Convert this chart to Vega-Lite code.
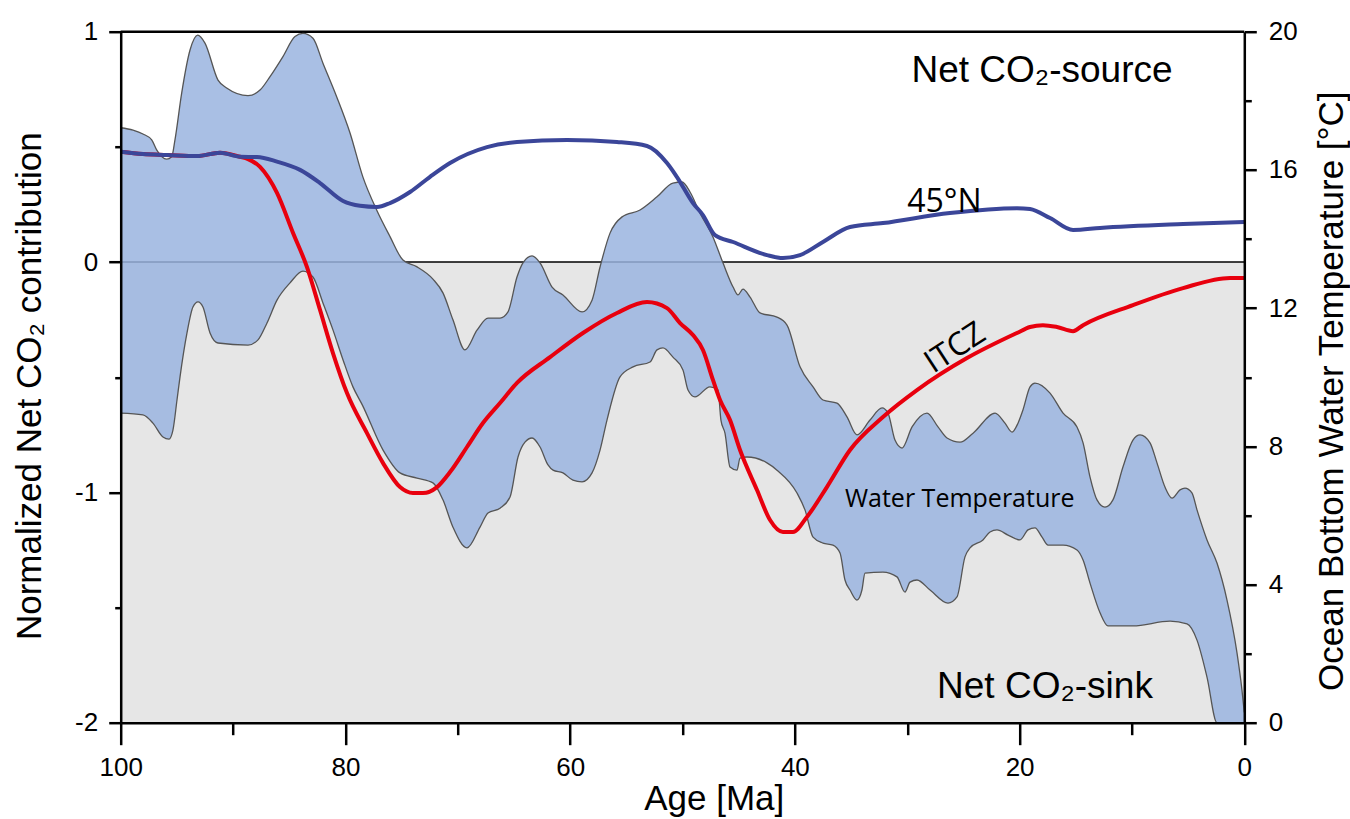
{
  "$schema": "https://vega.github.io/schema/vega-lite/v6.json",
  "autosize": "none",
  "width": 1123.6,
  "height": 691,
  "padding": {"left": 120.7, "top": 31.7, "right": 105.7, "bottom": 96.3},
  "background": "white",
  "config": {"view": {"stroke": null}},
  "datasets": {
    "upper": [
      {"age": 100, "temp": 17.22}, {"age": 98.9, "temp": 17.15}, {"age": 98.02, "temp": 17.04}, {"age": 97.24, "temp": 16.87},
      {"age": 96.8, "temp": 16.58}, {"age": 95.91, "temp": 16.31}, {"age": 95.46, "temp": 16.38}, {"age": 95.17, "temp": 16.87},
      {"age": 94.57, "temp": 18.23}, {"age": 93.83, "temp": 19.47}, {"age": 93.15, "temp": 19.9}, {"age": 92.5, "temp": 19.67},
      {"age": 91.34, "temp": 18.6}, {"age": 90.57, "temp": 18.37}, {"age": 88.67, "temp": 18.15}, {"age": 87.6, "temp": 18.31},
      {"age": 86.71, "temp": 18.7}, {"age": 85.56, "temp": 19.28}, {"age": 84.49, "temp": 19.86}, {"age": 83.78, "temp": 19.95},
      {"age": 82.89, "temp": 19.81}, {"age": 82.0, "temp": 19.09}, {"age": 80.78, "temp": 18.12}, {"age": 79.59, "temp": 17.07},
      {"age": 78.44, "temp": 15.79}, {"age": 77.22, "temp": 14.84}, {"age": 76.03, "temp": 14.07}, {"age": 74.88, "temp": 13.39},
      {"age": 73.66, "temp": 13.2}, {"age": 72.21, "temp": 12.84}, {"age": 71.32, "temp": 12.44}, {"age": 70.43, "temp": 11.66},
      {"age": 69.36, "temp": 10.79}, {"age": 68.29, "temp": 11.36}, {"age": 67.31, "temp": 11.71}, {"age": 66.24, "temp": 11.71},
      {"age": 65.53, "temp": 11.89}, {"age": 64.73, "temp": 12.9}, {"age": 64.2, "temp": 13.31}, {"age": 63.39, "temp": 13.51},
      {"age": 62.68, "temp": 13.31}, {"age": 61.61, "temp": 12.61}, {"age": 60.64, "temp": 12.38}, {"age": 58.94, "temp": 11.89},
      {"age": 58.05, "temp": 12.23}, {"age": 57.34, "temp": 13.19}, {"age": 56.45, "temp": 14.17}, {"age": 55.38, "temp": 14.64},
      {"age": 53.78, "temp": 14.84}, {"age": 52.27, "temp": 15.22}, {"age": 50.85, "temp": 15.62}, {"age": 50.04, "temp": 15.65},
      {"age": 49.33, "temp": 15.36}, {"age": 48.44, "temp": 14.75}, {"age": 47.29, "temp": 14.06}, {"age": 46.4, "temp": 13.31},
      {"age": 45.5, "temp": 12.61}, {"age": 45.06, "temp": 12.38}, {"age": 44.62, "temp": 12.55}, {"age": 43.99, "temp": 12.32},
      {"age": 43.1, "temp": 11.86}, {"age": 41.59, "temp": 11.74}, {"age": 40.7, "temp": 11.51}, {"age": 39.54, "temp": 10.3},
      {"age": 38.38, "temp": 9.72}, {"age": 37.5, "temp": 9.34}, {"age": 36.25, "temp": 9.25}, {"age": 35.36, "temp": 8.85},
      {"age": 34.47, "temp": 8.33}, {"age": 33.31, "temp": 8.76}, {"age": 32.24, "temp": 9.11}, {"age": 31.71, "temp": 8.96},
      {"age": 31.09, "temp": 8.18}, {"age": 30.46, "temp": 7.95}, {"age": 29.57, "temp": 8.56}, {"age": 28.24, "temp": 8.96},
      {"age": 27.26, "temp": 8.56}, {"age": 26.46, "temp": 8.24}, {"age": 25.3, "temp": 8.12}, {"age": 24.14, "temp": 8.38},
      {"age": 22.18, "temp": 8.96}, {"age": 21.3, "temp": 8.67}, {"age": 20.67, "temp": 8.41}, {"age": 20.14, "temp": 8.67},
      {"age": 19.7, "temp": 9.05}, {"age": 19.07, "temp": 9.72}, {"age": 18.63, "temp": 9.83}, {"age": 17.29, "temp": 9.54},
      {"age": 16.13, "temp": 8.96}, {"age": 14.89, "temp": 8.56}, {"age": 14.35, "temp": 8.1}, {"age": 13.73, "temp": 7.11},
      {"age": 13.11, "temp": 6.45}, {"age": 12.4, "temp": 6.24}, {"age": 11.69, "temp": 6.45}, {"age": 10.8, "temp": 7.4},
      {"age": 9.91, "temp": 8.18}, {"age": 9.28, "temp": 8.33}, {"age": 8.39, "temp": 8.1}, {"age": 7.77, "temp": 7.52},
      {"age": 7.06, "temp": 6.82}, {"age": 6.43, "temp": 6.5}, {"age": 5.72, "temp": 6.74}, {"age": 5.28, "temp": 6.79},
      {"age": 4.66, "temp": 6.65}, {"age": 4.21, "temp": 6.16}, {"age": 3.32, "temp": 5.29}, {"age": 2.43, "temp": 4.62},
      {"age": 1.54, "temp": 3.55}, {"age": 0.65, "temp": 2.02}, {"age": 0.21, "temp": 0.95}, {"age": 0, "temp": 0.3}
    ],
    "lower": [
      {"age": 100, "temp": 8.96}, {"age": 98.02, "temp": 8.91}, {"age": 97.13, "temp": 8.67}, {"age": 96.24, "temp": 8.27},
      {"age": 95.7, "temp": 8.21}, {"age": 95.35, "temp": 8.47}, {"age": 94.99, "temp": 9.34}, {"age": 94.72, "temp": 10.01},
      {"age": 94.1, "temp": 11.28}, {"age": 93.57, "temp": 12.03}, {"age": 93.12, "temp": 12.18}, {"age": 92.68, "temp": 12.03},
      {"age": 92.05, "temp": 11.28}, {"age": 91.34, "temp": 10.99}, {"age": 88.67, "temp": 10.93}, {"age": 87.78, "temp": 11.08},
      {"age": 86.98, "temp": 11.57}, {"age": 86.09, "temp": 12.23}, {"age": 84.93, "temp": 12.73}, {"age": 83.78, "temp": 13.07},
      {"age": 82.89, "temp": 12.9}, {"age": 82.0, "temp": 12.15}, {"age": 81.11, "temp": 11.37}, {"age": 80.21, "temp": 10.5},
      {"age": 79.33, "temp": 9.72}, {"age": 78.5, "temp": 9.2}, {"age": 76.65, "temp": 7.89}, {"age": 75.14, "temp": 7.23},
      {"age": 73.63, "temp": 7.08}, {"age": 72.21, "temp": 6.94}, {"age": 71.32, "temp": 6.45}, {"age": 70.43, "temp": 5.66},
      {"age": 69.18, "temp": 5.06}, {"age": 68.02, "temp": 5.66}, {"age": 67.31, "temp": 6.07}, {"age": 66.24, "temp": 6.21},
      {"age": 65.35, "temp": 6.53}, {"age": 64.64, "temp": 7.69}, {"age": 64.02, "temp": 8.12}, {"age": 63.39, "temp": 8.24},
      {"age": 62.68, "temp": 7.98}, {"age": 61.97, "temp": 7.46}, {"age": 61.52, "temp": 7.31}, {"age": 60.64, "temp": 7.23},
      {"age": 59.75, "temp": 7.02}, {"age": 58.94, "temp": 6.97}, {"age": 58.05, "temp": 7.23}, {"age": 57.34, "temp": 7.89},
      {"age": 56.72, "temp": 8.76}, {"age": 55.56, "temp": 10.01}, {"age": 54.4, "temp": 10.3}, {"age": 52.89, "temp": 10.44},
      {"age": 52.27, "temp": 10.79}, {"age": 51.74, "temp": 10.85}, {"age": 50.85, "temp": 10.58}, {"age": 49.96, "temp": 10.21},
      {"age": 49.51, "temp": 9.63}, {"age": 48.89, "temp": 9.43}, {"age": 47.56, "temp": 9.72}, {"age": 46.84, "temp": 9.63},
      {"age": 46.58, "temp": 8.76}, {"age": 46.22, "temp": 8.38}, {"age": 45.77, "temp": 7.4}, {"age": 45.15, "temp": 7.31},
      {"age": 44.88, "temp": 7.66}, {"age": 44.26, "temp": 7.69}, {"age": 42.48, "temp": 7.52}, {"age": 41.59, "temp": 7.31},
      {"age": 39.81, "temp": 6.65}, {"age": 39.1, "temp": 6.16}, {"age": 38.38, "temp": 5.37}, {"age": 37.5, "temp": 5.2},
      {"age": 36.61, "temp": 5.14}, {"age": 35.98, "temp": 4.91}, {"age": 35.54, "temp": 4.13}, {"age": 35.09, "temp": 3.84},
      {"age": 34.47, "temp": 3.55}, {"age": 34.03, "temp": 3.84}, {"age": 33.76, "temp": 4.33}, {"age": 32.16, "temp": 4.36},
      {"age": 30.91, "temp": 4.22}, {"age": 30.2, "temp": 3.78}, {"age": 29.75, "temp": 4.07}, {"age": 29.13, "temp": 4.13},
      {"age": 27.97, "temp": 3.84}, {"age": 26.37, "temp": 3.46}, {"age": 25.57, "temp": 3.64}, {"age": 24.86, "temp": 4.8},
      {"age": 24.41, "temp": 5.06}, {"age": 23.26, "temp": 5.29}, {"age": 22.63, "temp": 5.52}, {"age": 22.01, "temp": 5.58},
      {"age": 21.03, "temp": 5.43}, {"age": 19.96, "temp": 5.29}, {"age": 19.25, "temp": 5.58}, {"age": 18.63, "temp": 5.64},
      {"age": 18.0, "temp": 5.37}, {"age": 17.47, "temp": 5.14}, {"age": 16.13, "temp": 5.14}, {"age": 14.89, "temp": 5.0},
      {"age": 14.35, "temp": 4.71}, {"age": 13.73, "temp": 4.04}, {"age": 12.84, "temp": 3.18}, {"age": 12.13, "temp": 2.8},
      {"age": 9.91, "temp": 2.8}, {"age": 6.61, "temp": 2.94}, {"age": 5.1, "temp": 2.86}, {"age": 4.21, "temp": 2.39},
      {"age": 3.32, "temp": 1.32}, {"age": 2.43, "temp": 0}, {"age": 0, "temp": 0}
    ],
    "n45": [
      {"age": 100, "co2": 0.479}, {"age": 98.02, "co2": 0.469}, {"age": 95.88, "co2": 0.465}, {"age": 93.21, "co2": 0.46},
      {"age": 91.16, "co2": 0.475}, {"age": 89.38, "co2": 0.457}, {"age": 87.87, "co2": 0.456}, {"age": 86.09, "co2": 0.436},
      {"age": 84.04, "co2": 0.4}, {"age": 82.26, "co2": 0.343}, {"age": 80.21, "co2": 0.265}, {"age": 78.7, "co2": 0.244},
      {"age": 77.19, "co2": 0.239}, {"age": 76.03, "co2": 0.256}, {"age": 74.25, "co2": 0.304}, {"age": 72.47, "co2": 0.37},
      {"age": 70.69, "co2": 0.43}, {"age": 67.4, "co2": 0.499}, {"age": 64.73, "co2": 0.521}, {"age": 60.28, "co2": 0.53},
      {"age": 55.83, "co2": 0.521}, {"age": 53.16, "co2": 0.504}, {"age": 51.38, "co2": 0.43}, {"age": 50.49, "co2": 0.369},
      {"age": 49.07, "co2": 0.256}, {"age": 48.18, "co2": 0.204}, {"age": 47.11, "co2": 0.117}, {"age": 45.5, "co2": 0.087},
      {"age": 42.48, "co2": 0.03}, {"age": 41.06, "co2": 0.017}, {"age": 39.54, "co2": 0.03}, {"age": 37.5, "co2": 0.087},
      {"age": 35.09, "co2": 0.152}, {"age": 32.16, "co2": 0.169}, {"age": 26.2, "co2": 0.213}, {"age": 20.23, "co2": 0.234},
      {"age": 19.07, "co2": 0.23}, {"age": 17.29, "co2": 0.191}, {"age": 15.24, "co2": 0.139}, {"age": 12.84, "co2": 0.148},
      {"age": 5.45, "co2": 0.165}, {"age": 0, "co2": 0.174}
    ],
    "itcz": [
      {"age": 100, "co2": 0.479}, {"age": 98.02, "co2": 0.469}, {"age": 95.88, "co2": 0.465}, {"age": 93.21, "co2": 0.46},
      {"age": 91.16, "co2": 0.475}, {"age": 89.38, "co2": 0.457}, {"age": 88.67, "co2": 0.447}, {"age": 87.6, "co2": 0.413},
      {"age": 86.09, "co2": 0.3}, {"age": 84.66, "co2": 0.126}, {"age": 83.42, "co2": -0.022}, {"age": 82.26, "co2": -0.208},
      {"age": 81.11, "co2": -0.395}, {"age": 79.86, "co2": -0.569}, {"age": 78.08, "co2": -0.743}, {"age": 76.65, "co2": -0.873},
      {"age": 75.14, "co2": -0.977}, {"age": 73.99, "co2": -1.003}, {"age": 73.1, "co2": -1.003}, {"age": 71.85, "co2": -0.977},
      {"age": 70.69, "co2": -0.912}, {"age": 69.18, "co2": -0.803}, {"age": 67.76, "co2": -0.699}, {"age": 66.24, "co2": -0.612},
      {"age": 64.73, "co2": -0.525}, {"age": 61.79, "co2": -0.413}, {"age": 58.86, "co2": -0.308}, {"age": 55.83, "co2": -0.221},
      {"age": 53.16, "co2": -0.174}, {"age": 51.38, "co2": -0.2}, {"age": 50.22, "co2": -0.265}, {"age": 49.07, "co2": -0.317},
      {"age": 48.18, "co2": -0.382}, {"age": 47.29, "co2": -0.512}, {"age": 46.66, "co2": -0.599}, {"age": 45.77, "co2": -0.686},
      {"age": 44.88, "co2": -0.816}, {"age": 43.37, "co2": -0.99}, {"age": 42.21, "co2": -1.12}, {"age": 41.06, "co2": -1.172},
      {"age": 40.17, "co2": -1.172}, {"age": 38.93, "co2": -1.107}, {"age": 37.15, "co2": -0.977}, {"age": 35.09, "co2": -0.816},
      {"age": 32.16, "co2": -0.673}, {"age": 29.13, "co2": -0.556}, {"age": 24.68, "co2": -0.417}, {"age": 20.23, "co2": -0.308},
      {"age": 19.07, "co2": -0.282}, {"age": 17.92, "co2": -0.274}, {"age": 16.67, "co2": -0.282}, {"age": 15.24, "co2": -0.3},
      {"age": 14.35, "co2": -0.274}, {"age": 9.91, "co2": -0.187}, {"age": 5.45, "co2": -0.113}, {"age": 1.27, "co2": -0.069},
      {"age": 0, "co2": -0.069}
    ]
  },
  "layer": [
    {
      "data": {"values": [{}]},
      "layer": [
        {
          "mark": {"type": "rect", "color": "#e6e6e6"},
          "encoding": {
            "x": {"datum": 100, "type": "quantitative",
              "scale": {"domain": [0, 100], "reverse": true, "nice": false, "zero": false},
              "axis": {"orient": "bottom", "values": [0, 20, 40, 60, 80, 100], "tickSize": 22, "tickWidth": 2.5, "tickColor": "black",
                "domainColor": "black", "domainWidth": 2.5, "labelFont": "Liberation Sans", "labelFontSize": 26, "labelColor": "black",
                "labelPadding": 10, "labelFlush": false, "labelOverlap": false, "grid": false,
                "title": "Age [Ma]", "titleFont": "Liberation Sans", "titleFontSize": 35, "titleFontWeight": "normal", "titleColor": "black",
                "titleX": 593, "titleY": 87, "titleBaseline": "alphabetic", "titleAlign": "center", "zindex": 1}},
            "x2": {"datum": 0},
            "y": {"datum": 0, "type": "quantitative",
              "scale": {"domain": [-2, 1], "nice": false, "zero": false},
              "axis": {"orient": "left", "values": [-2, -1, 0, 1], "tickSize": 12, "tickWidth": 2.5, "tickColor": "black",
                "domainColor": "black", "domainWidth": 2.5, "labelFont": "Liberation Sans", "labelFontSize": 26, "labelColor": "black",
                "labelPadding": 11, "labelExpr": "'' + datum.value", "grid": false,
                "title": "Normalized Net CO₂ contribution", "titleFont": "Liberation Sans", "titleFontSize": 35, "titleFontWeight": "normal",
                "titleColor": "black", "titleAngle": 270, "titleX": -80.7, "titleY": 354, "titleBaseline": "alphabetic", "titleAlign": "center", "zindex": 1}},
            "y2": {"datum": -2}
          }
        },
        {"mark": {"type": "rule", "color": "black", "strokeWidth": 1.5}, "encoding": {"y": {"datum": 0, "type": "quantitative"}}},
        {"mark": {"type": "rule", "color": "black", "strokeWidth": 2.5}, "encoding": {"y": {"datum": 1, "type": "quantitative"}}}
      ]
    },
    {
      "encoding": {
        "x": {"field": "age", "type": "quantitative", "scale": {"domain": [0, 100], "reverse": true, "nice": false, "zero": false}, "axis": null},
        "y": {"field": "temp", "type": "quantitative", "scale": {"domain": [0, 20], "nice": false, "zero": false},
          "axis": {"orient": "right", "values": [0, 4, 8, 12, 16, 20], "tickSize": 12, "tickWidth": 2.5, "tickColor": "black",
            "domainColor": "black", "domainWidth": 2.5, "labelFont": "Liberation Sans", "labelFontSize": 26, "labelColor": "black",
            "labelPadding": 12, "grid": false,
            "title": "Ocean Bottom Water Temperature [°C]", "titleFont": "Liberation Sans", "titleFontSize": 35, "titleFontWeight": "normal",
            "titleColor": "black", "titleAngle": 270, "titleX": 98, "titleY": 359, "titleBaseline": "alphabetic", "titleAlign": "center", "zindex": 1}}
      },
      "layer": [
        {"data": {"name": "upper"}, "mark": {"type": "area", "interpolate": "monotone", "fill": "#9ab4df", "fillOpacity": 0.85}, "encoding": {"y2": {"datum": 0}}},
        {"data": {"name": "lower"}, "mark": {"type": "area", "interpolate": "monotone", "fill": "#e6e6e6", "fillOpacity": 1}, "encoding": {"y2": {"datum": 0}}},
        {"data": {"name": "upper"}, "mark": {"type": "line", "interpolate": "monotone", "color": "#555555", "strokeWidth": 1.3}, "encoding": {}},
        {"data": {"name": "lower"}, "mark": {"type": "line", "interpolate": "monotone", "color": "#555555", "strokeWidth": 1.3}, "encoding": {}}
      ]
    },
    {
      "encoding": {
        "x": {"field": "age", "type": "quantitative", "scale": {"domain": [0, 100], "reverse": true, "nice": false, "zero": false},
          "axis": {"orient": "bottom", "values": [10, 30, 50, 70, 90], "tickSize": 12, "tickWidth": 2.5, "tickColor": "black",
            "domain": false, "labels": false, "grid": false, "title": null, "zindex": 1}},
        "y": {"field": "co2", "type": "quantitative", "scale": {"domain": [-2, 1], "nice": false, "zero": false},
          "axis": {"orient": "left", "values": [-1.5, -0.5, 0.5], "tickSize": 6, "tickWidth": 2.5, "tickColor": "black",
            "domain": false, "labels": false, "grid": false, "title": null, "zindex": 1}}
      },
      "layer": [
        {"data": {"name": "itcz"}, "mark": {"type": "line", "interpolate": "monotone", "color": "#e8000e", "strokeWidth": 4}, "encoding": {}},
        {"data": {"name": "n45"}, "mark": {"type": "line", "interpolate": "monotone", "color": "#3b4699", "strokeWidth": 4}, "encoding": {}},
        {
          "data": {"values": [{"age": 18.0, "co2": 0.783, "label": "Net CO₂-source"}, {"age": 17.74, "co2": -1.893, "label": "Net CO₂-sink"}]},
          "mark": {"type": "text", "font": "Liberation Sans", "fontSize": 37, "align": "center", "baseline": "alphabetic", "color": "black"},
          "encoding": {"text": {"field": "label"}}
        },
        {
          "data": {"values": [{"age": 30.0, "co2": 0.218, "label": "45°N"}]},
          "mark": {"type": "text", "font": "Open Sans", "fontSize": 32, "align": "left", "baseline": "alphabetic", "color": "black"},
          "encoding": {"text": {"field": "label"}}
        },
        {
          "data": {"values": [{"age": 25.75, "co2": -0.373, "label": "ITCZ"}]},
          "mark": {"type": "text", "font": "Open Sans", "fontSize": 32, "align": "center", "baseline": "middle", "angle": -33, "color": "black"},
          "encoding": {"text": {"field": "label"}}
        }
      ]
    },
    {
      "data": {"values": [{"age": 35.54, "temp": 6.24, "label": "Water Temperature"}]},
      "mark": {"type": "text", "font": "Open Sans", "fontSize": 25, "align": "left", "baseline": "alphabetic", "color": "black"},
      "encoding": {
        "x": {"field": "age", "type": "quantitative", "scale": {"domain": [0, 100], "reverse": true, "nice": false, "zero": false}, "axis": null},
        "y": {"field": "temp", "type": "quantitative", "scale": {"domain": [0, 20], "nice": false, "zero": false},
          "axis": {"orient": "right", "values": [2, 6, 10, 14, 18], "tickSize": 7, "tickWidth": 2.5, "tickColor": "black",
            "domain": false, "labels": false, "grid": false, "title": null, "zindex": 1}},
        "text": {"field": "label"}
      }
    }
  ],
  "resolve": {"scale": {"y": "independent"}, "axis": {"x": "independent", "y": "independent"}}
}
